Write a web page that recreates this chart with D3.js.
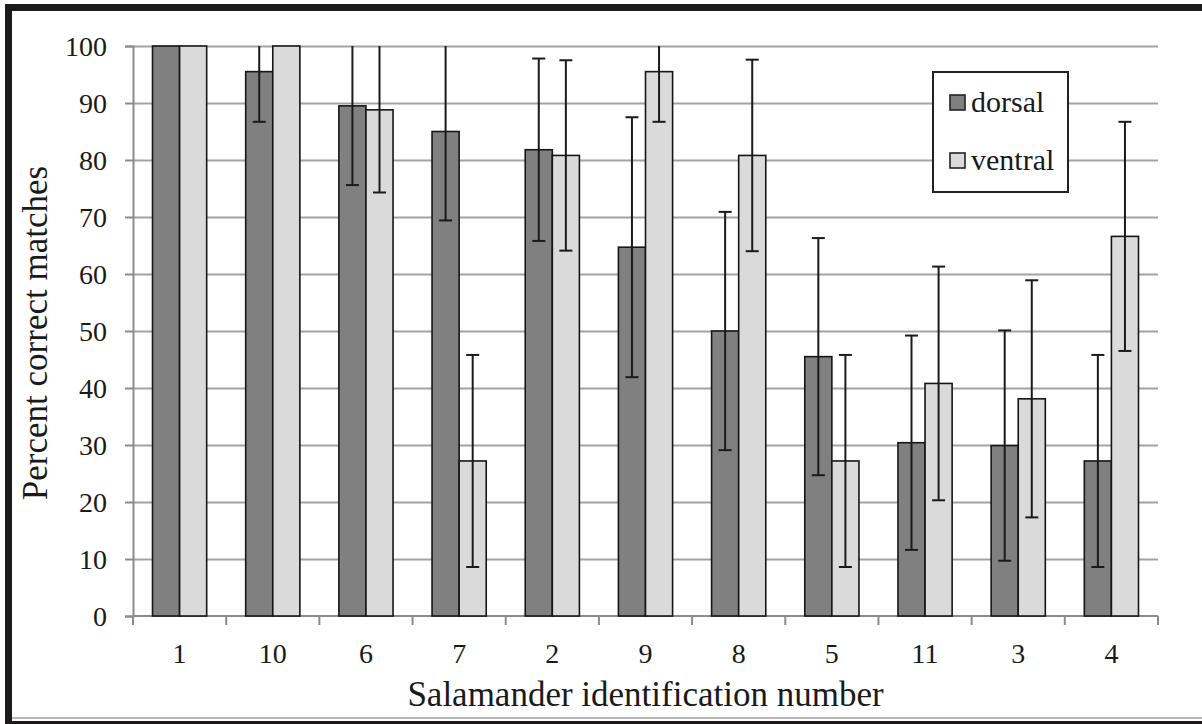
<!DOCTYPE html>
<html>
<head>
<meta charset="utf-8">
<script src="https://cdn.jsdelivr.net/npm/d3@7"></script>
</head>
<body style="margin:0; background:#fff">
<div id="chart"></div>
<script>
const width = 1202;
const height = 724;
const serif = "'Liberation Serif'";

// data
const salamanders = ["1", "10", "6", "7", "2", "9", "8", "5", "11", "3", "4"];
const series = ["dorsal", "ventral"];
const dorsal = [100, 95.5, 89.5, 85, 81.8, 64.7, 50, 45.5, 30.4, 29.9, 27.2];
const ventral = [100, 100, 88.8, 27.2, 80.8, 95.5, 80.8, 27.2, 40.8, 38.1, 66.6];
const dorsalErr = [0, 8.8, 13.9, 15.6, 16, 22.8, 20.9, 20.8, 18.8, 20.2, 18.6];
const ventralErr = [0, 0, 14.5, 18.6, 16.7, 8.8, 16.8, 18.6, 20.5, 20.8, 20.1];
const yTicks = [0, 10, 20, 30, 40, 50, 60, 70, 80, 90, 100];

const colors = { dorsal: "#808080", ventral: "#dadada" };

const margin = { left: 133, right: 44, top: 46, bottom: 108 };

const svg = d3.select("#chart").append("svg")
    .attr("width", width)
    .attr("height", height);

svg.append("rect").attr("width", width).attr("height", height).attr("fill", "#fff");

const x = d3.scaleBand()
    .domain(salamanders)
    .range([margin.left, width - margin.right])
    .paddingInner(0)
    .paddingOuter(0);

const xSub = d3.scaleBand()
    .domain(series)
    .range([0, x.bandwidth()])
    .paddingInner(0)
    .paddingOuter(0.72);

const y = d3.scaleLinear()
    .domain([0, 100])
    .range([height - margin.bottom, margin.top]);

// gridlines
svg.append("g")
    .attr("class", "grid")
    .attr("transform", "translate(" + margin.left + ",0)")
    .call(d3.axisLeft(y).tickValues(yTicks.slice(1)).tickSize(-(width - margin.left - margin.right)).tickFormat(""))
    .call(g => g.select(".domain").remove())
    .call(g => g.selectAll("line").attr("stroke", "#a3a3a3").attr("stroke-width", 2));

// y axis
const yAxis = svg.append("g")
    .attr("transform", "translate(" + margin.left + ",0)")
    .call(d3.axisLeft(y).tickValues(yTicks).tickSize(8).tickPadding(18));
yAxis.select(".domain").attr("stroke", "#8c8c8c").attr("stroke-width", 2);
yAxis.selectAll(".tick line").attr("stroke", "#8c8c8c").attr("stroke-width", 2);
yAxis.selectAll(".tick text")
    .style("font-family", serif)
    .style("font-size", "28px")
    .attr("fill", "#1a1a1a")
    .attr("dy", "0.35em");

// x axis: labels under each band
const xAxis = svg.append("g")
    .attr("transform", "translate(0," + y(0) + ")")
    .call(d3.axisBottom(x).tickSize(0).tickPadding(27));
xAxis.select(".domain").remove();
xAxis.selectAll(".tick text")
    .style("font-family", serif)
    .style("font-size", "28px")
    .attr("fill", "#1a1a1a");

// x axis line and boundary ticks
const bounds = salamanders.map(d => x(d)).concat([x.range()[1]]);
svg.append("line")
    .attr("x1", x.range()[0]).attr("x2", x.range()[1])
    .attr("y1", y(0)).attr("y2", y(0))
    .attr("stroke", "#8c8c8c").attr("stroke-width", 2);
svg.selectAll(".xbound")
    .data(bounds)
    .enter()
    .append("line")
    .attr("class", "xbound")
    .attr("x1", d => d).attr("x2", d => d)
    .attr("y1", y(0)).attr("y2", y(0) + 9)
    .attr("stroke", "#8c8c8c").attr("stroke-width", 2);

// bars
const rows = [];
salamanders.forEach(function(s, i) {
    rows.push({ id: s, key: "dorsal", value: dorsal[i], err: dorsalErr[i] });
    rows.push({ id: s, key: "ventral", value: ventral[i], err: ventralErr[i] });
});

svg.selectAll(".bar")
    .data(rows)
    .enter()
    .append("rect")
    .attr("class", "bar")
    .attr("x", d => x(d.id) + xSub(d.key))
    .attr("y", d => y(d.value))
    .attr("width", xSub.bandwidth())
    .attr("height", d => y(0) - y(d.value))
    .attr("fill", d => colors[d.key])
    .attr("stroke", "#161616")
    .attr("stroke-width", 1.6);

// error bars
const capW = 13;
const err = svg.selectAll(".err")
    .data(rows.filter(d => d.err > 0))
    .enter()
    .append("g")
    .attr("class", "err")
    .attr("stroke", "#1a1a1a")
    .attr("stroke-width", 2);

err.append("line")
    .attr("x1", d => x(d.id) + xSub(d.key) + xSub.bandwidth() / 2)
    .attr("x2", d => x(d.id) + xSub(d.key) + xSub.bandwidth() / 2)
    .attr("y1", d => y(Math.min(100, d.value + d.err)))
    .attr("y2", d => y(Math.max(0, d.value - d.err)));

err.filter(d => d.value + d.err <= 100).append("line")
    .attr("x1", d => x(d.id) + xSub(d.key) + xSub.bandwidth() / 2 - capW / 2)
    .attr("x2", d => x(d.id) + xSub(d.key) + xSub.bandwidth() / 2 + capW / 2)
    .attr("y1", d => y(d.value + d.err))
    .attr("y2", d => y(d.value + d.err));

err.append("line")
    .attr("x1", d => x(d.id) + xSub(d.key) + xSub.bandwidth() / 2 - capW / 2)
    .attr("x2", d => x(d.id) + xSub(d.key) + xSub.bandwidth() / 2 + capW / 2)
    .attr("y1", d => y(d.value - d.err))
    .attr("y2", d => y(d.value - d.err));

// legend
const legend = svg.append("g").attr("transform", "translate(933,72)");
legend.append("rect")
    .attr("width", 135).attr("height", 120)
    .attr("fill", "#fff").attr("stroke", "#222").attr("stroke-width", 2);
series.forEach(function(s, i) {
    legend.append("rect")
        .attr("x", 17).attr("y", 23 + i * 58)
        .attr("width", 15).attr("height", 15)
        .attr("fill", colors[s]).attr("stroke", "#222").attr("stroke-width", 1.6);
    legend.append("text")
        .attr("x", 38).attr("y", 40 + i * 58)
        .attr("fill", "#1a1a1a")
        .style("font-family", serif)
        .style("font-size", "30px")
        .text(s);
});

// axis titles
svg.append("text")
    .attr("x", (x.range()[0] + x.range()[1]) / 2)
    .attr("y", 706)
    .attr("text-anchor", "middle")
    .attr("fill", "#1a1a1a")
    .style("font-family", serif)
    .style("font-size", "35px")
    .text("Salamander identification number");

svg.append("text")
    .attr("transform", "translate(47," + (y(50) + 2) + ") rotate(-90)")
    .attr("text-anchor", "middle")
    .attr("fill", "#1a1a1a")
    .style("font-family", serif)
    .style("font-size", "35px")
    .text("Percent correct matches");

// outer frame
svg.append("rect").attr("x", 5).attr("y", 4).attr("width", width - 5).attr("height", 7).attr("fill", "#1c1a1b");
svg.append("rect").attr("x", 5).attr("y", 4).attr("width", 7).attr("height", height - 4).attr("fill", "#1c1a1b");
svg.append("rect").attr("x", 12).attr("y", 717).attr("width", width - 12).attr("height", 2).attr("fill", "#b8b8b8");
svg.append("rect").attr("x", 5).attr("y", 721).attr("width", width - 5).attr("height", 3).attr("fill", "#1c1a1b");
</script>
</body>
</html>
